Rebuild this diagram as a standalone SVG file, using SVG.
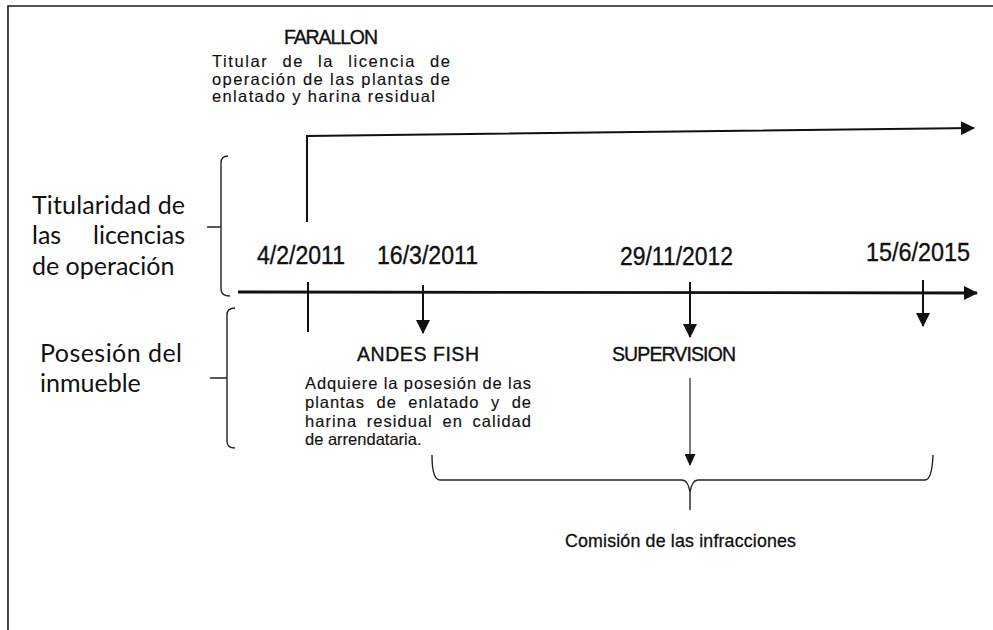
<svg xmlns="http://www.w3.org/2000/svg" width="993" height="630" viewBox="0 0 993 630">
<style>
.bg{fill:#ffffff}
.frame{fill:none;stroke:#1a1a1a;stroke-width:1.6}
.ln{fill:none;stroke:#111;stroke-width:2}
.thick{fill:none;stroke:#111;stroke-width:2.8}
.thin{fill:none;stroke:#222;stroke-width:1.2}
.brace{fill:none;stroke:#222;stroke-width:1.4}
.side{font-family:Lato,"Open Sans",sans-serif;font-size:25px;fill:#111}
.title{font-family:"Liberation Sans",Arial,sans-serif;font-size:19.5px;fill:#111;stroke:#111;stroke-width:0.35}
.date{font-family:"Liberation Sans",Arial,sans-serif;font-size:25px;fill:#111;stroke:#111;stroke-width:0.35}
.desc{font-family:"Liberation Sans",Arial,sans-serif;font-size:16.5px;fill:#111;stroke:#111;stroke-width:0.15}
.big{font-family:"Liberation Sans",Arial,sans-serif;font-size:17.8px;fill:#111;stroke:#111;stroke-width:0.3}
</style>
<defs>
<marker id="ah" markerUnits="userSpaceOnUse" markerWidth="14" markerHeight="14" viewBox="0 0 14 14" refX="13" refY="7" orient="auto">
<path d="M0,0 L14,7 L0,14 z" fill="#111"/>
</marker>
<marker id="ahs" markerUnits="userSpaceOnUse" markerWidth="12" markerHeight="11" viewBox="0 0 12 11" refX="11" refY="5.5" orient="auto">
<path d="M0,0 L12,5.5 L0,11 z" fill="#111"/>
</marker>
</defs>
<rect class="bg" x="0" y="0" width="993" height="630"/>
<path id="frame" class="frame" d="M8,632 L8,6 L996,6"/>

<g id="label-titularidad">
<text class="side" x="32" y="214" textLength="153" lengthAdjust="spacing">Titularidad de</text>
<text class="side" y="244"><tspan x="32">las</tspan><tspan x="93">licencias</tspan></text>
<text class="side" x="32" y="275">de operación</text>
</g>
<g id="label-posesion">
<text class="side" x="40" y="362" textLength="142" lengthAdjust="spacing">Posesión del</text>
<text class="side" x="40" y="392">inmueble</text>
</g>

<g id="node-farallon">
<text class="title" x="284" y="44" font-size="17.5" textLength="94" lengthAdjust="spacing">FARALLON</text>
<text class="desc" x="212" y="67" word-spacing="8" textLength="238" lengthAdjust="spacing">Titular de la licencia de</text>
<text class="desc" x="212" y="84.5" textLength="238" lengthAdjust="spacing">operación de las plantas de</text>
<text class="desc" x="212" y="102" textLength="223" lengthAdjust="spacing">enlatado y harina residual</text>
</g>

<g id="node-date-1">
<text class="date" x="257" y="264" textLength="88" lengthAdjust="spacingAndGlyphs">4/2/2011</text>
</g>
<g id="node-date-2">
<text class="date" x="377" y="264" textLength="101" lengthAdjust="spacingAndGlyphs">16/3/2011</text>
</g>
<g id="node-date-3">
<text class="date" x="620" y="265" textLength="113" lengthAdjust="spacingAndGlyphs">29/11/2012</text>
</g>
<g id="node-date-4">
<text class="date" x="866" y="261" textLength="104" lengthAdjust="spacingAndGlyphs">15/6/2015</text>
</g>

<g id="node-andes">
<text class="title" x="357" y="361" textLength="122" lengthAdjust="spacing">ANDES FISH</text>
<text class="desc" x="305" y="389" textLength="226" lengthAdjust="spacing">Adquiere la posesión de las</text>
<text class="desc" x="305" y="408" word-spacing="6" textLength="226" lengthAdjust="spacing">plantas de enlatado y de</text>
<text class="desc" x="305" y="426.5" word-spacing="4" textLength="226" lengthAdjust="spacing">harina residual en calidad</text>
<text class="desc" x="305" y="445">de arrendataria.</text>
</g>

<g id="node-supervision">
<text class="title" x="612" y="361" font-size="17.8" textLength="124" lengthAdjust="spacing">SUPERVISION</text>
</g>

<g id="node-comision">
<text class="big" x="565" y="547" textLength="231" lengthAdjust="spacing">Comisión de las infracciones</text>
</g>

<g id="connectors">
<path class="brace" d="M228,156 Q221,156 221,163 L221,289 Q221,296 230,296 M207,227 L221,227"/>
<path class="brace" d="M235,308 Q227,308 227,315 L227,441 Q227,448 235,448 M210,378 L227,378"/>
<path class="ln" d="M307,222 L307,136 L974,128" marker-end="url(#ah)"/>
<path class="thick" d="M238,292 L977,293" marker-end="url(#ah)"/>
<path class="ln" d="M308,282 L308,332"/>
<path class="ln" d="M423,285 L423,333" marker-end="url(#ah)"/>
<path class="ln" d="M690,282 L690,337" marker-end="url(#ah)"/>
<path class="ln" d="M923,280 L923,326" marker-end="url(#ah)"/>
<path class="thin" d="M690,378 L690,465" marker-end="url(#ahs)"/>
<path class="brace" d="M432,455 Q432,480 440,480 L682,480 Q688,480 690,492 Q692,480 698,480 L925,480 Q932,480 933,455 M690,492 L690,510"/>
</g>
</svg>
